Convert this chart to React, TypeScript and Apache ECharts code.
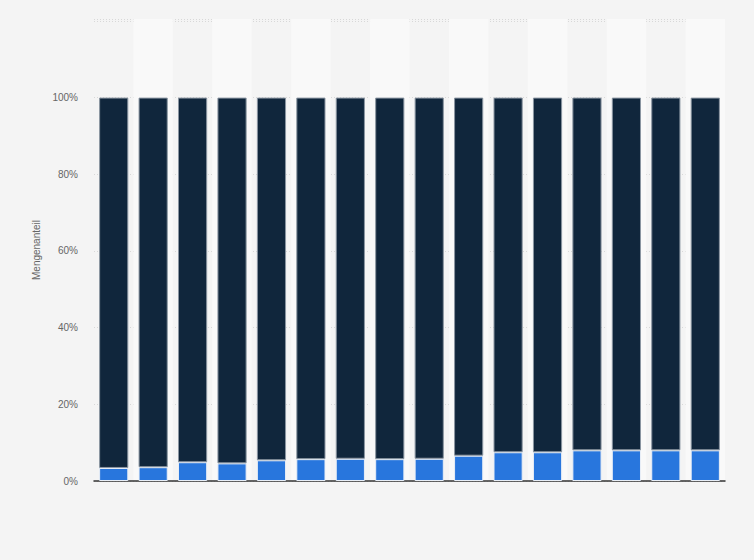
import { useEffect, useRef } from "react";
import * as echarts from "echarts";

const categories = ["1", "2", "3", "4", "5", "6", "7", "8", "9", "10", "11", "12", "13", "14", "15", "16"];
const lowerShare = [3.4, 3.6, 4.9, 4.6, 5.4, 5.7, 5.8, 5.7, 5.8, 6.6, 7.5, 7.5, 8.0, 8.0, 8.0, 8.0];
const upperShare = [96.6, 96.4, 95.1, 95.4, 94.6, 94.3, 94.2, 94.3, 94.2, 93.4, 92.5, 92.5, 92.0, 92.0, 92.0, 92.0];
const yTicks = [0, 20, 40, 60, 80, 100];

export default function App() {
    const chartRef = useRef<HTMLDivElement | null>(null);

    useEffect(() => {
        if (!chartRef.current) return;
        const chart = echarts.init(chartRef.current, undefined, { renderer: "svg" });

        chart.setOption({
            animation: false,
            backgroundColor: "#f4f4f4",
            grid: { left: 94, right: 29, top: 19, bottom: 79 },
            xAxis: {
                type: "category",
                data: categories,
                axisLabel: { show: false },
                axisTick: { show: false },
                axisLine: { lineStyle: { color: "#333", width: 1.5 } },
                splitArea: {
                    show: true,
                    areaStyle: { color: ["rgba(255,255,255,0)", "#f9f9f9"] },
                },
            },
            yAxis: {
                type: "value",
                min: 0,
                max: 120.5,
                interval: 20,
                name: "Mengenanteil",
                nameLocation: "middle",
                nameGap: 51,
                nameTextStyle: { color: "#666", fontSize: 10, fontFamily: "Liberation Sans, Arial, sans-serif" },
                axisLine: { show: false },
                axisTick: { show: false },
                axisLabel: {
                    color: "#666",
                    fontSize: 10,
                    margin: 16,
                    fontFamily: "Liberation Sans, Arial, sans-serif",
                    formatter: (v: number) => (yTicks.includes(v) ? `${v}%` : ""),
                },
                splitLine: { lineStyle: { color: "#d8d8d8", type: [1, 2] } },
            },
            series: [
                {
                    name: "Anteil 1",
                    type: "bar",
                    stack: "total",
                    data: lowerShare,
                    barWidth: "74%",
                    itemStyle: { color: "#2876dd", borderColor: "#e8eef6", borderWidth: 1 },
                },
                {
                    name: "Anteil 2",
                    type: "bar",
                    stack: "total",
                    data: upperShare,
                    barWidth: "74%",
                    itemStyle: { color: "#10263c", borderColor: "#8a95a1", borderWidth: 1 },
                },
            ],
        });

        return () => chart.dispose();
    }, []);

    return (
        <div
            ref={chartRef}
            style={{ position: "fixed", left: 0, top: 0, width: "754px", height: "560px" }}
        />
    );
}
